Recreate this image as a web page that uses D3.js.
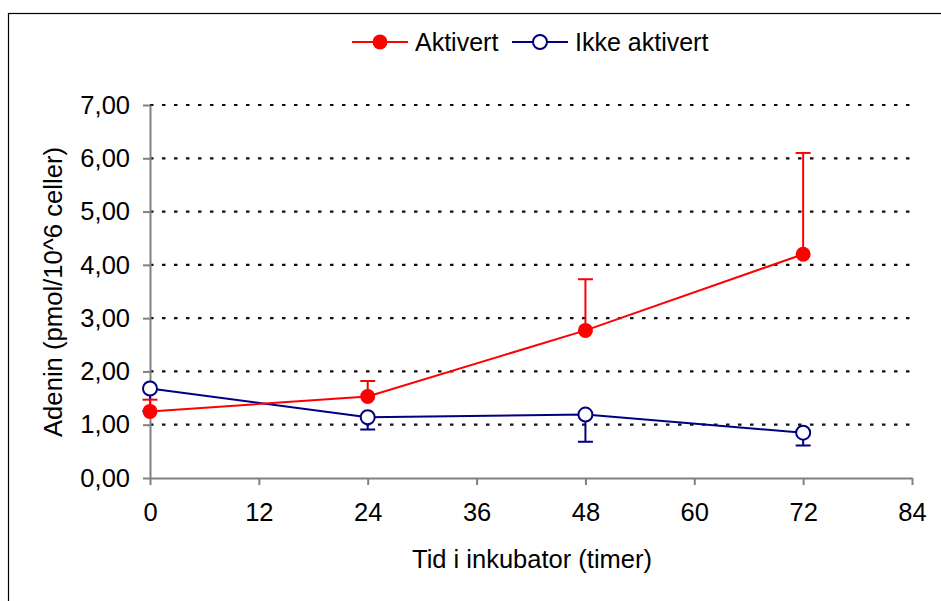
<!DOCTYPE html>
<html>
<head>
<meta charset="utf-8">
<script src="https://cdn.jsdelivr.net/npm/d3@7"></script>
<style>
  html, body { margin: 0; padding: 0; background: #fff; }
  svg { display: block; font-family: "Liberation Sans", Arial, sans-serif; }
</style>
</head>
<body>
<svg id="chart" width="941" height="601"></svg>
<script>
// Time points (hours in incubator)
const hours = [0, 24, 48, 72];
// Adenine, pmol per 10^6 cells
const activated = [1.25, 1.53, 2.77, 4.20];
const activatedErr = [0.22, 0.29, 0.96, 1.90];   // drawn upward
const notActivated = [1.68, 1.14, 1.19, 0.85];
const notActivatedErr = [0.42, 0.23, 0.51, 0.24]; // drawn downward
const xTicks = [0, 12, 24, 36, 48, 60, 72, 84];
const yTicks = [0, 1, 2, 3, 4, 5, 6, 7];

const svg = d3.select("#chart");
const plotLeft = 150, plotRight = 912, plotTop = 105, plotBottom = 478;
const x = d3.scaleLinear().domain([0, 84]).range([plotLeft, plotRight]);
const y = d3.scaleLinear().domain([0, 7]).range([plotBottom, plotTop]);
const fmt = v => d3.format(".2f")(v).replace(".", ",");

// outer chart frame
svg.append("rect").attr("x", 8.5).attr("y", 13.5).attr("width", 940).attr("height", 600)
  .attr("fill", "none").attr("stroke", "#000").attr("stroke-width", 1.2);

// dotted horizontal gridlines
svg.append("g").selectAll("line").data(yTicks.filter(d => d > 0)).join("line")
  .attr("x1", plotLeft).attr("x2", 910)
  .attr("y1", d => y(d)).attr("y2", d => y(d))
  .attr("stroke", "#111").attr("stroke-width", 2.2)
  .attr("stroke-dasharray", "3.5,8.5");

// axes
const gx = svg.append("g").attr("transform", `translate(0,${plotBottom})`)
  .call(d3.axisBottom(x).tickValues(xTicks).tickSize(7).tickPadding(18).tickSizeOuter(0));
const gy = svg.append("g").attr("transform", `translate(${plotLeft},0)`)
  .call(d3.axisLeft(y).tickValues(yTicks).tickFormat(fmt).tickSize(7).tickPadding(13).tickSizeOuter(0));
[gx, gy].forEach(g => {
  g.select(".domain").attr("stroke", "#808080").attr("stroke-width", 2);
  g.selectAll(".tick line").attr("stroke", "#808080").attr("stroke-width", 2);
  g.selectAll(".tick text").attr("fill", "#000").style("font-size", "25.5px")
    .style("font-family", "'Liberation Sans', Arial, sans-serif");
});

// axis titles
svg.append("text").attr("x", 412).attr("y", 568)
  .attr("textLength", 240).attr("lengthAdjust", "spacingAndGlyphs")
  .style("font-size", "25px").text("Tid i inkubator (timer)");
svg.append("text").attr("transform", `translate(62,437) rotate(-90)`)
  .attr("textLength", 290).attr("lengthAdjust", "spacingAndGlyphs")
  .style("font-size", "25px").text("Adenin (pmol/10^6 celler)");

function series(values, errs, dir, color, filled) {
  const g = svg.append("g");
  const pts = hours.map((h, i) => ({ h, v: values[i], e: errs[i] }));
  // error bars (one-sided)
  g.selectAll(".err").data(pts).join("line").attr("class", "err")
    .attr("x1", d => x(d.h)).attr("x2", d => x(d.h))
    .attr("y1", d => y(d.v)).attr("y2", d => y(d.v + dir * d.e))
    .attr("stroke", color).attr("stroke-width", 2);
  g.selectAll(".cap").data(pts).join("line").attr("class", "cap")
    .attr("x1", d => x(d.h) - 7.5).attr("x2", d => x(d.h) + 7.5)
    .attr("y1", d => y(d.v + dir * d.e)).attr("y2", d => y(d.v + dir * d.e))
    .attr("stroke", color).attr("stroke-width", 2);
  g.append("path").datum(pts)
    .attr("d", d3.line().x(d => x(d.h)).y(d => y(d.v)))
    .attr("fill", "none").attr("stroke", color).attr("stroke-width", 2);
  g.selectAll("circle").data(pts).join("circle")
    .attr("cx", d => x(d.h)).attr("cy", d => y(d.v))
    .attr("r", filled ? 7.5 : 7)
    .attr("fill", filled ? color : "#fff")
    .attr("stroke", color).attr("stroke-width", filled ? 0 : 2);
}
series(notActivated, notActivatedErr, -1, "#000080", false);
series(activated, activatedErr, 1, "#ff0000", true);

// legend
const legend = [
  { name: "Aktivert", color: "#ff0000", filled: true, x0: 352 },
  { name: "Ikke aktivert", color: "#000080", filled: false, x0: 512 }
];
const lg = svg.append("g");
legend.forEach(l => {
  lg.append("line").attr("x1", l.x0).attr("x2", l.x0 + 56).attr("y1", 42).attr("y2", 42)
    .attr("stroke", l.color).attr("stroke-width", 2);
  lg.append("circle").attr("cx", l.x0 + 28).attr("cy", 42).attr("r", l.filled ? 7.5 : 7)
    .attr("fill", l.filled ? l.color : "#fff").attr("stroke", l.color)
    .attr("stroke-width", l.filled ? 0 : 2);
  lg.append("text").attr("x", l.x0 + 63).attr("y", 50.5).style("font-size", "25px").text(l.name);
});
</script>
</body>
</html>
